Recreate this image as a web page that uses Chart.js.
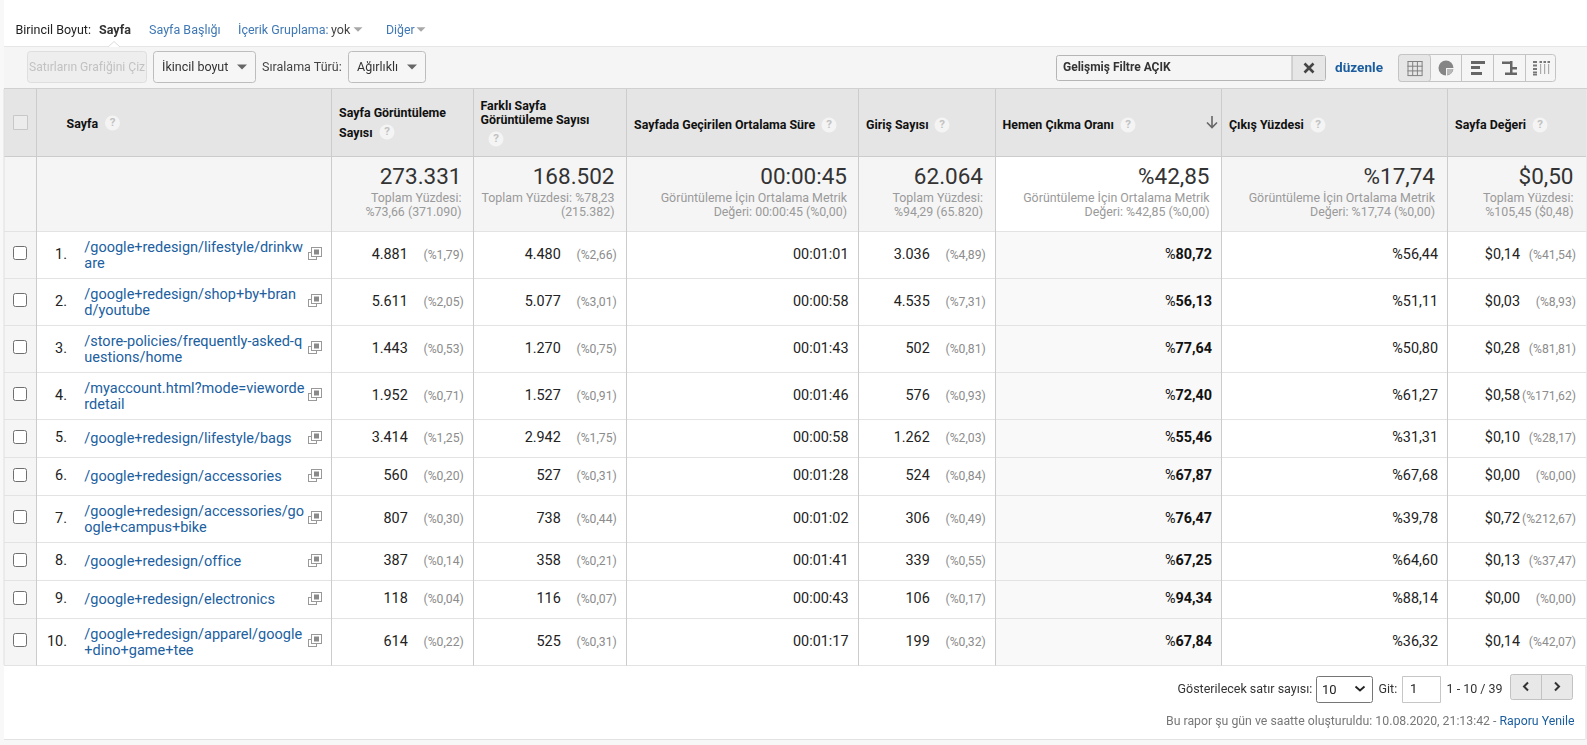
<!DOCTYPE html>
<html lang="tr">
<head>
<meta charset="utf-8">
<title>Sayfa raporu</title>
<style>
html,body{margin:0;padding:0;background:#fff;overflow:hidden}
#wrap{position:relative;width:1587px;height:745px;overflow:hidden;font-family:Roboto,sans-serif}
#c{position:absolute;left:0;top:0;width:1587px;height:745px;display:block}
.t{position:absolute;white-space:nowrap;line-height:16px;font-size:12.5px;color:#333}
</style>
<script src="https://cdn.jsdelivr.net/npm/chart.js@4/dist/chart.umd.min.js"></script>
</head>
<body>
<div id="wrap"><canvas id="c" width="1587" height="745"></canvas></div>
<script>
/* ---------- chart data ---------- */
const pages = [
  "/google+redesign/lifestyle/drinkw\nare",
  "/google+redesign/shop+by+bran\nd/youtube",
  "/store-policies/frequently-asked-q\nuestions/home",
  "/myaccount.html?mode=vieworde\nrdetail",
  "/google+redesign/lifestyle/bags",
  "/google+redesign/accessories",
  "/google+redesign/accessories/go\nogle+campus+bike",
  "/google+redesign/office",
  "/google+redesign/electronics",
  "/google+redesign/apparel/google\n+dino+game+tee"
];
const pageViews      = [4881, 5611, 1443, 1952, 3414, 560, 807, 387, 118, 614];
const pageViewsPct   = ["1,79","2,05","0,53","0,71","1,25","0,20","0,30","0,14","0,04","0,22"];
const uniqueViews    = [4480, 5077, 1270, 1527, 2942, 527, 738, 358, 116, 525];
const uniqueViewsPct = ["2,66","3,01","0,75","0,91","1,75","0,31","0,44","0,21","0,07","0,31"];
const avgTime        = ["00:01:01","00:00:58","00:01:43","00:01:46","00:00:58","00:01:28","00:01:02","00:01:41","00:00:43","00:01:17"];
const entrances      = [3036, 4535, 502, 576, 1262, 524, 306, 339, 106, 199];
const entrancesPct   = ["4,89","7,31","0,81","0,93","2,03","0,84","0,49","0,55","0,17","0,32"];
const bounceRate     = ["80,72","56,13","77,64","72,40","55,46","67,87","76,47","67,25","94,34","67,84"];
const exitRate       = ["56,44","51,11","50,80","61,27","31,31","67,68","39,78","64,60","88,14","36,32"];
const pageValue      = ["0,14","0,03","0,28","0,58","0,10","0,00","0,72","0,13","0,00","0,14"];
const pageValuePct   = ["41,54","8,93","81,81","171,62","28,17","0,00","212,67","37,47","0,00","42,07"];

const headerLabels = [
  ["Sayfa"],
  ["Sayfa Görüntüleme","Sayısı"],
  ["Farklı Sayfa","Görüntüleme Sayısı"],
  ["Sayfada Geçirilen Ortalama Süre"],
  ["Giriş Sayısı"],
  ["Hemen Çıkma Oranı"],
  ["Çıkış Yüzdesi"],
  ["Sayfa Değeri"]
];
const totalValues = ["273.331","168.502","00:00:45","62.064","%42,85","%17,74","$0,50"];
const totalNotes = [
  ["Toplam Yüzdesi:","%73,66 (371.090)"],
  ["Toplam Yüzdesi: %78,23","(215.382)"],
  ["Görüntüleme İçin Ortalama Metrik","Değeri: 00:00:45 (%0,00)"],
  ["Toplam Yüzdesi:","%94,29 (65.820)"],
  ["Görüntüleme İçin Ortalama Metrik","Değeri: %42,85 (%0,00)"],
  ["Görüntüleme İçin Ortalama Metrik","Değeri: %17,74 (%0,00)"],
  ["Toplam Yüzdesi:","%105,45 ($0,48)"]
];

/* ---------- layout (separate from the data) ---------- */
const colEdges = [4, 36.5, 331.5, 473.5, 626.5, 858.5, 995.5, 1221.5, 1447.5, 1587];
const headTop = 89, headBottom = 156, totalBottom = 231;
const rowH = p => p.includes("\n") ? 47 : 38;
const rowEdges = [totalBottom];
pages.forEach(p => rowEdges.push(rowEdges[rowEdges.length-1] + rowH(p)));
const rowMid = i => (rowEdges[i] + rowEdges[i+1]) / 2;

const COL = {grid:"#cccccc", rowLine:"#e3e3e3", head:"#e5e5e5", soft:"#f5f5f5", link:"#20609f", ink:"#222222", mute:"#8c8c8c"};
const fmtNum = n => String(n).replace(/\B(?=(\d{3})+(?!\d))/g, ".");

/* metric cell series: each is a scatter dataset whose points sit on the table's scales */
const cellSeries = [
  {id:"pv",  col:2, vals:pageViews.map(fmtNum),   pct:pageViewsPct},
  {id:"uv",  col:3, vals:uniqueViews.map(fmtNum), pct:uniqueViewsPct},
  {id:"tm",  col:4, vals:avgTime},
  {id:"en",  col:5, vals:entrances.map(fmtNum),   pct:entrancesPct},
  {id:"br",  col:6, vals:bounceRate.map(v=>"%"+v), bold:true},
  {id:"ex",  col:7, vals:exitRate.map(v=>"%"+v)},
  {id:"pg",  col:8, vals:pageValue.map(v=>"$"+v),  pct:pageValuePct}
];
const rightPad = {2:9.7,3:9.7,4:10,5:9.7,6:9.5,7:9.5,8:11};

const datasets = cellSeries.map(s => ({
  label:s.id, pointRadius:0, pointHoverRadius:0, showLine:false,
  data:s.vals.map((v,i)=>({x:colEdges[s.col+1]-rightPad[s.col], y:rowMid(i)}))
}));

/* ---------- drawing plugin ---------- */
const tablePlugin = {
  id:"table",
  beforeDraw(chart){
    const g = chart.ctx, X = chart.scales.x, Y = chart.scales.y;
    const px = v => X.getPixelForValue(v), py = v => Y.getPixelForValue(v);
    const rect = (x0,y0,x1,y1,c)=>{g.fillStyle=c;g.fillRect(px(x0),py(y0),px(x1)-px(x0),py(y1)-py(y0));};
    const hl = (x0,x1,y,c)=>{g.fillStyle=c;g.fillRect(px(x0),py(y)-.5,px(x1)-px(x0),1);};
    const vl = (x,y0,y1,c)=>{g.fillStyle=c;g.fillRect(px(x)-.5,py(y0),1,py(y1)-py(y0));};
    const box = (x0,y0,x1,y1,r,fill,stroke)=>{g.beginPath();g.roundRect(px(x0)+.5,py(y0)+.5,px(x1)-px(x0)-1,py(y1)-py(y0)-1,r);if(fill){g.fillStyle=fill;g.fill();}if(stroke){g.strokeStyle=stroke;g.lineWidth=1;g.stroke();}};
    const tri = (x,y,w,h,c)=>{g.fillStyle=c;g.beginPath();g.moveTo(x-w/2,y-h/2);g.lineTo(x+w/2,y-h/2);g.lineTo(x,y+h/2);g.closePath();g.fill();};

    rect(0,0,1587,745,"#ffffff");
    rect(0,0,4,745,"#f8f8f8");
    /* toolbar band */
    rect(4,46,1587,89,COL.soft);
    hl(4,1587,46.5,"#e6e6e6");
    g.fillStyle="#fff";g.strokeStyle="#dcdcdc";g.beginPath();g.moveTo(108,47);g.lineTo(114,41.5);g.lineTo(120,47);g.fill();g.stroke();
    box(27,51,147,83,3,"#eeeeee","#dedede");
    box(153,51,256,83,3,"#f6f6f6","#bdbdbd");
    box(348,51,426,83,3,"#f6f6f6","#bdbdbd");
    tri(242,67,10,5,"#666"); tri(412,67,10,5,"#666");
    tri(358,29.5,9,4.5,"#a8a8a8"); tri(421,29.5,9,4.5,"#a8a8a8");
    /* filter box */
    box(1056,55,1326,81,2,"#f5f5f5","#b5b5b5");
    g.fillStyle="#e6e6e6";g.fillRect(1292,56,33,24);
    vl(1292,55,81,"#b5b5b5");
    g.strokeStyle="#444";g.lineWidth=2.6;g.beginPath();g.moveTo(1304.5,63.5);g.lineTo(1313.5,72.5);g.moveTo(1313.5,63.5);g.lineTo(1304.5,72.5);g.stroke();
    /* view switcher */
    box(1398,54,1556,82,3,"#f5f5f5","#c4c4c4");
    box(1398,54,1431,82,3,"#e6e6e6","#c4c4c4");
    [1461.5,1493.5,1525.5].forEach(x=>vl(x,54,82,"#c4c4c4"));
    g.strokeStyle="#808080";g.lineWidth=1;
    for(let i=0;i<4;i++){g.beginPath();g.moveTo(1408+i*4.7,61.5);g.lineTo(1408+i*4.7,75.5);g.moveTo(1407.5,61.5+i*4.7);g.lineTo(1422.5,61.5+i*4.7);g.stroke();}
    g.fillStyle="#858585";g.beginPath();g.arc(1446,68,7.5,0,7);g.fill();
    g.fillStyle="#b8b8b8";g.beginPath();g.moveTo(1447,69);g.arc(1447,69,6,0,Math.PI/2);g.closePath();g.fill();
    g.fillStyle="#f5f5f5";g.fillRect(1446,68,8,1);g.fillRect(1446,68,1,8);
    g.fillStyle="#666";g.fillRect(1471,61,14,3);g.fillRect(1471,66,9,3);g.fillRect(1471,72,11,3);
    g.fillStyle="#666";g.fillRect(1502,61.5,10,2.5);g.fillRect(1510,67,7,2.5);g.fillRect(1505,72.5,12,2.5);g.fillRect(1510,61,2.5,14);
    g.fillStyle="#777";[61,64.5,68,71.5].forEach(y=>g.fillRect(1533,y,4,2));
    g.fillStyle="#777";[1539.5,1543.5,1547.5].forEach(x=>g.fillRect(x,61,2.5,2));
    g.fillStyle="#aaa";[1540,1544,1548].forEach(x=>g.fillRect(x,64,1.2,10));
    g.fillStyle="#777";g.fillRect(1533,74,4,1.5);

    /* table backgrounds */
    rect(4,headTop,1587,headBottom,COL.head);
    rect(4,headBottom,1587,totalBottom,COL.soft);
    rect(colEdges[6],headBottom,colEdges[7],totalBottom,"#ffffff");
    rect(4,totalBottom,colEdges[1],rowEdges[10],COL.soft);
    rect(colEdges[6],totalBottom,colEdges[7],rowEdges[10],"#f9f9f9");
    /* rules, through the scales */
    rowEdges.forEach(y=>hl(4,1587,y+.5,COL.rowLine));
    hl(4,1587,headTop-.5,"#d0d0d0");
    hl(4,1587,headBottom+.5,COL.grid);
    colEdges.slice(1,9).forEach(x=>vl(x,headTop,rowEdges[10]+.5,COL.grid));
    vl(4,headTop,rowEdges[10],"#e0e0e0");
    vl(1586.5,headTop,745,"#e8e8e8");
    /* footer */
    rect(4,rowEdges[10]+1,1585,739,"#ffffff");
    rect(0,739.5,1587,745,"#f7f7f7");
    hl(4,1586,739.5,"#e2e2e2");
    vl(1585.5,665,740,"#ececec");
    box(1316,676,1373,703,2,"#ffffff","#767676");
    g.strokeStyle="#222";g.lineWidth=1.8;g.beginPath();g.moveTo(1355.5,686.5);g.lineTo(1360,690.5);g.lineTo(1364.5,686.5);g.stroke();
    box(1402,676,1441,703,0,"#ffffff","#c6c6c6");
    box(1510,674,1573,700,2,"#e8e8e8","#c2c2c2");
    vl(1541.5,674,700,"#c2c2c2");
    g.strokeStyle="#333";g.lineWidth=2;g.beginPath();g.moveTo(1528,682.5);g.lineTo(1524,686.5);g.lineTo(1528,690.5);g.moveTo(1555,682.5);g.lineTo(1559,686.5);g.lineTo(1555,690.5);g.stroke();

    /* header checkbox, sort arrow */
    box(13,115,28,130,0,"#ececec","#c8c8c8");
    g.strokeStyle="#666";g.lineWidth=1.6;g.beginPath();g.moveTo(1212,116);g.lineTo(1212,127);g.moveTo(1207,122.5);g.lineTo(1212,127.5);g.lineTo(1217,122.5);g.stroke();

    /* row checkboxes and open-link icons */
    pages.forEach((p,i)=>{
      const y = Math.floor(rowMid(i)) - 1;
      g.beginPath();g.roundRect(13.5,y-6.5,13,13,2);g.fillStyle="#fff";g.fill();g.strokeStyle="#6f6f6f";g.lineWidth=1;g.stroke();
      g.strokeStyle="#999";g.lineWidth=1;
      g.strokeRect(308.5,y-0.5,8,7);
      g.fillStyle="#fff";g.fillRect(312,y-6,9,9);
      g.strokeRect(311.5,y-5.5,10,9);
      g.fillStyle="#8a8a8a";g.fillRect(314,y-3.5,5,5);
    });
  },
  afterDatasetsDraw(chart){
    const g = chart.ctx, X = chart.scales.x, Y = chart.scales.y;
    const px = v => X.getPixelForValue(v), py = v => Y.getPixelForValue(v);
    const T = (s,x,y,font,color,align="left")=>{g.font=font;g.fillStyle=color;g.textAlign=align;g.textBaseline="middle";g.fillText(s,px(x),py(y));};

    /* header labels + help marks */
    const hx = [66.5,339,480.5,634,866,1002.5,1229,1455];
    const hy = [[124.5],[113.5,133.5],[107,120.5],[125.5],[125.5],[125.5],[125.5],[125.5]];
    const help = [[112.5,123],[387,132],[496,139],[829,125],[942,125],[1128,125],[1318,125],[1540,125]];
    const hf = "bold 12.4px Roboto";
    headerLabels.forEach((lines,c)=>{
      lines.forEach((s,l)=>T(s,hx[c],hy[c][l],hf,"#111"));
      const [a,b]=help[c];
      g.fillStyle="#f4f4f4";g.beginPath();g.arc(px(a),py(b),7.5,0,7);g.fill();
      T("?",a,b+.5,"bold 11.5px Roboto","#c2c2c2","center");
    });
    /* totals */
    const rights=[461.5,614.5,847,983,1209.5,1435,1573.5];
    totalValues.forEach((v,c)=>{
      T(v,rights[c],178.5,"22.5px Roboto","#333","right");
      T(totalNotes[c][0],rights[c],199,"12.4px Roboto","#9a9a9a","right");
      T(totalNotes[c][1],rights[c],213,"12.4px Roboto","#9a9a9a","right");
    });
    /* row labels */
    pages.forEach((p,i)=>{
      const m = rowMid(i);
      T((i+1)+".",67,m+.5,"14.4px Roboto",COL.ink,"right");
      const lines = p.split("\n");
      const lf = "14.5px Roboto";
      if(lines.length===2){
        T(lines[0],84.3,m-6.5,lf,COL.link);
        T(lines[1],84.3,m+9.5,lf,COL.link);
      } else T(p,84.3,m+1.5,lf,COL.link);
    });
    /* metric cells come from the dataset points */
    cellSeries.forEach((s,d)=>{
      chart.getDatasetMeta(d).data.forEach((pt,i)=>{
        const xr = pt.x, y = pt.y+.5;
        if(s.pct){
          g.font="12.2px Roboto";g.fillStyle=COL.mute;g.textAlign="right";g.textBaseline="middle";
          g.fillText("(%"+s.pct[i]+")",xr,y+.5);
          g.font="14.4px Roboto";g.fillStyle=COL.ink;
          g.fillText(s.vals[i],xr-56,y);
        } else if(s.bold){
          const digits=s.vals[i].slice(1);
          g.textAlign="right";g.textBaseline="middle";
          g.font="bold 14.4px Roboto";g.fillStyle="#111";g.fillText(digits,xr,y);
          const w=g.measureText(digits).width;
          g.font="14.4px Roboto";g.fillText("%",xr-w,y);
        } else {
          g.font="14.4px Roboto";g.fillStyle=COL.ink;g.textAlign="right";g.textBaseline="middle";
          g.fillText(s.vals[i],xr,y);
        }
      });
    });
  }
};

const canvas = document.getElementById("c");
const ctx2d = canvas.getContext("2d",{alpha:false});
new Chart(ctx2d,{
  type:"scatter",
  data:{datasets},
  options:{
    responsive:false, animation:false, devicePixelRatio:1,
    events:[],
    layout:{padding:0},
    plugins:{legend:{display:false},tooltip:{enabled:false}},
    scales:{
      x:{type:"linear",min:0,max:1587,display:false},
      y:{type:"linear",min:0,max:745,reverse:true,display:false}
    }
  },
  plugins:[tablePlugin]
});

/* ---------- page chrome text ---------- */
const wrap = document.getElementById("wrap");
function label(s,x,yc,css=""){
  const e=document.createElement("span");e.className="t";e.textContent=s;
  e.style.cssText=`left:${x}px;top:${yc-8}px;${css}`;wrap.appendChild(e);return e;
}
const blue="color:#3f78b5;";
label("Birincil Boyut:",15.5,30,"color:#222;");
label("Sayfa",99,30,"font-weight:700;color:#333;");
label("Sayfa Başlığı",149,30,blue);
label("İçerik Gruplama:",238,30,blue);
label("yok",331,30,"color:#444;");
label("Diğer",386,30,"color:#3f78b5;font-size:12.3px;");
label("Satırların Grafiğini Çiz",29,67,"color:#c2c2c2;font-size:12.1px;");
label("İkincil boyut",162,67,"color:#333;");
label("Sıralama Türü:",262,66.5,"color:#444;");
label("Ağırlıklı",357,67,"color:#333;");
label("Gelişmiş Filtre AÇIK",1063,67,"font-weight:700;font-size:12px;color:#333;");
label("düzenle",1335,67,"font-weight:700;font-size:13.6px;color:#1a5c9e;");
label("Gösterilecek satır sayısı:",1177.5,688.5,"color:#333;");
label("10",1322,689.5,"color:#222;font-size:13px;");
label("Git:",1378.5,688.5,"color:#333;");
label("1",1410,689,"color:#222;font-size:13px;");
label("1 - 10 / 39",1446.5,688.5,"color:#333;");
const foot = label("Bu rapor şu gün ve saatte oluşturuldu: 10.08.2020, 21:13:42 - ",0,721,"left:auto;right:12.5px;color:#777;font-size:12.3px;");
const refresh = document.createElement("span");
refresh.textContent = "Raporu Yenile"; refresh.style.color = "#1a5c9e";
foot.appendChild(refresh);
</script>
</body>
</html>
